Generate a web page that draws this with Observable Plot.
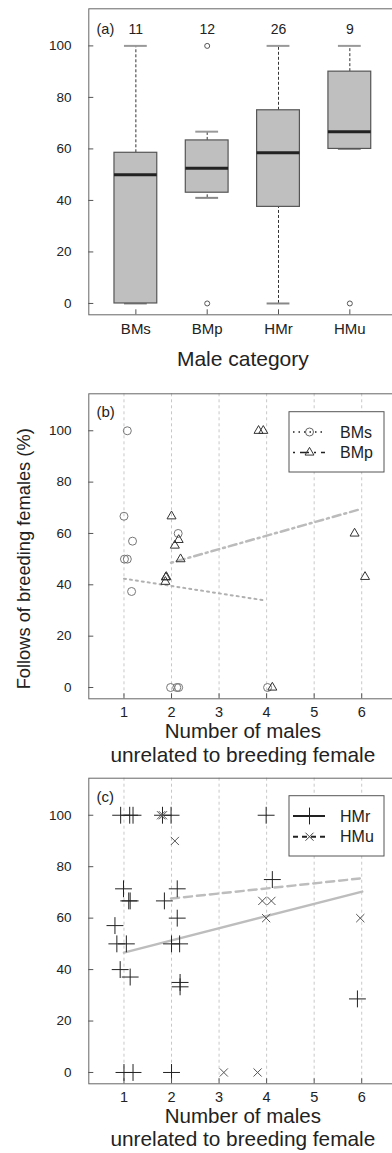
<!DOCTYPE html>
<html><head><meta charset="utf-8">
<script src="https://cdn.jsdelivr.net/npm/d3@7"></script>
<script src="https://cdn.jsdelivr.net/npm/@observablehq/plot@0.6"></script>
<style>
html,body{margin:0;padding:0;background:#fff;overflow:hidden;width:392px;height:1153px}
#chart svg{display:block;overflow:hidden}
</style></head><body><div id="chart"></div>
<script>
const FONT = "'Liberation Sans', Arial, Helvetica, sans-serif";

// ---------- Panel (a): box plots ----------
const categories = ["BMs", "BMp", "HMr", "HMu"];
const counts = [11, 12, 26, 9];
const q1 = [0, 43, 37.5, 60];
const medians = [50, 52.5, 58.5, 66.7];
const q3 = [58.5, 63.3, 75, 90];
const whiskerLow = [0, 41, 0, 60];
const whiskerHigh = [100, 66.7, 100, 100];
const outlierCat = ["BMp", "BMp", "HMu"];
const outlierVal = [100, 0, 0];
const yTicks = [0, 20, 40, 60, 80, 100];

// ---------- Panel (b) ----------
const bmsX = [1.07, 1.00, 1.18, 1.01, 1.07, 1.16, 2.14, 1.98, 2.11, 2.15, 4.02];
const bmsY = [100, 66.7, 57, 50, 50, 37.4, 60, 0, 0, 0, 0];
const bmpX = [3.83, 3.93, 2.00, 2.15, 2.07, 2.19, 1.87, 1.88, 1.89, 5.85, 6.07, 4.12];
const bmpY = [100, 100, 66.7, 57.5, 55.3, 50, 41.2, 42.9, 43.1, 60, 43.1, 0];
const bmsFitX = [1.0, 3.97];
const bmsFitY = [42.4, 33.9];
const bmpFitX = [1.99, 5.94];
const bmpFitY = [48.6, 69.3];

// ---------- Panel (c) ----------
const hmrX = [0.93, 1.12, 1.19, 1.81, 1.99, 3.99, 4.12, 0.99, 2.12, 1.10, 1.13, 1.85, 2.12, 0.81, 0.85, 1.05, 2.00, 2.17, 0.92, 1.13, 2.18, 2.18, 5.91, 1.00, 1.19, 2.00];
const hmrY = [100, 100, 100, 100, 100, 100, 75, 71.4, 71.4, 66.7, 66.7, 66.7, 60, 57.1, 50, 50, 50, 50, 40, 37.1, 35, 33.3, 28.6, 0, 0, 0];
const hmuX = [1.78, 1.82, 2.07, 3.91, 4.10, 3.99, 5.97, 3.10, 3.81];
const hmuY = [100, 100, 90, 66.7, 66.7, 60, 60, 0, 0];
const hmrFitX = [1.0, 6.01];
const hmrFitY = [46.6, 70.3];
const hmuFitX = [1.99, 5.96];
const hmuFitY = [67.6, 75.4];
const xTicks = [1, 2, 3, 4, 5, 6];

// ---------- helpers ----------
const pts = (xs, ys) => xs.map((x, i) => ({x, y: ys[i]}));
const style = {fontFamily: FONT, fontSize: "13.5px", color: "#222", background: "white"};
const Y_DOMAIN = [-4.4, 114.4];
const X_DOMAIN = [0.26, 6.74];
const TICK = 5;
const chart = document.getElementById("chart");

// inward ticks + separate labels
function axesMarks(xTickValues, xFormat, xFont, xPad) {
  return [
    Plot.axisY({ticks: yTicks, tickSize: TICK, dx: TICK, tickFormat: () => "", label: null, stroke: "#555"}),
    Plot.axisY({ticks: yTicks, tickSize: 0, tickPadding: 17.3, label: null, fontSize: 13.5}),
    Plot.axisX({ticks: xTickValues, tickSize: TICK, dy: -TICK, tickFormat: () => "", label: null, stroke: "#555"}),
    Plot.axisX({ticks: xTickValues, tickSize: 0, tickPadding: xPad, tickFormat: xFormat, label: null, fontSize: xFont})
  ];
}

// ---------- Panel (a) ----------
const boxes = categories.map((c, i) => ({
  pos: i + 1, cat: c, count: counts[i], q1: q1[i], med: medians[i], q3: q3[i],
  lo: whiskerLow[i], hi: whiskerHigh[i]
}));
const outliers = outlierCat.map((c, i) => ({pos: categories.indexOf(c) + 1, v: outlierVal[i]}));
const BW = 0.3, CW = 0.16;

const plotA = Plot.plot({
  width: 392, height: 375,
  marginLeft: 88.3, marginRight: -4.4, marginTop: 8.3, marginBottom: 60.7,
  style,
  x: {domain: [0.34, 4.66]},
  y: {domain: Y_DOMAIN},
  marks: [
    Plot.ruleX(boxes, {x: "pos", y1: "q3", y2: "hi", stroke: "#333", strokeDasharray: "3,2"}),
    Plot.ruleX(boxes, {x: "pos", y1: "lo", y2: "q1", stroke: "#333", strokeDasharray: "3,2"}),
    Plot.ruleY(boxes, {y: "hi", x1: d => d.pos - CW, x2: d => d.pos + CW, stroke: "#999", strokeWidth: 2}),
    Plot.ruleY(boxes, {y: "lo", x1: d => d.pos - CW, x2: d => d.pos + CW, stroke: "#888", strokeWidth: 2}),
    Plot.rect(boxes, {x1: d => d.pos - BW, x2: d => d.pos + BW, y1: "q1", y2: "q3", fill: "#bfbfbf", stroke: "#555", strokeWidth: 1.2}),
    Plot.ruleY(boxes, {y: "med", x1: d => d.pos - BW, x2: d => d.pos + BW, stroke: "#222", strokeWidth: 3}),
    Plot.dot(outliers, {x: "pos", y: "v", r: 2.5, stroke: "#555", strokeWidth: 1}),
    Plot.text(boxes, {x: "pos", text: d => String(d.count), frameAnchor: "top", lineAnchor: "bottom", dy: 25, fontSize: 14}),
    Plot.text(["(a)"], {text: d => d, frameAnchor: "top-left", textAnchor: "start", lineAnchor: "bottom", dx: 7.7, dy: 25, fontSize: 14.5}),
    Plot.frame({stroke: "#666"}),
    ...axesMarks([1, 2, 3, 4], i => categories[i - 1], 15, 8.4),
    Plot.text(["Male category"], {text: d => d, frameAnchor: "bottom", lineAnchor: "bottom", dy: 50.7, fontSize: 21})
  ]
});
chart.appendChild(plotA);

// ---------- Panel (b) ----------
const plotB = Plot.plot({
  width: 392, height: 390,
  marginLeft: 88.3, marginRight: -4.4, marginTop: 18.3, marginBottom: 66.7,
  style,
  x: {domain: X_DOMAIN},
  y: {domain: Y_DOMAIN},
  marks: [
    Plot.ruleX(xTicks, {stroke: "#c8c8c8", strokeDasharray: "3,3"}),
    Plot.line(pts(bmsFitX, bmsFitY), {x: "x", y: "y", stroke: "#b0b0b0", strokeWidth: 2, strokeDasharray: "2,4"}),
    Plot.line(pts(bmpFitX, bmpFitY), {x: "x", y: "y", stroke: "#bbbbbb", strokeWidth: 2.5, strokeDasharray: "2,4,8,4"}),
    Plot.dot(pts(bmsX, bmsY), {x: "x", y: "y", r: 4, stroke: "#777", strokeWidth: 1}),
    Plot.dot(pts(bmpX, bmpY), {x: "x", y: "y", r: 4.3, symbol: "triangle2", stroke: "#333", strokeWidth: 1}),
    Plot.text(["(b)"], {text: d => d, frameAnchor: "top-left", textAnchor: "start", lineAnchor: "bottom", dx: 7.7, dy: 23, fontSize: 15}),
    Plot.frame({stroke: "#666"}),
    ...axesMarks(xTicks, d => String(d), 14.5, 8.4),
    Plot.text(["Number of males"], {text: d => d, frameAnchor: "bottom", lineAnchor: "bottom", dy: 39.4, fontSize: 20.5}),
    Plot.text(["unrelated to breeding female"], {text: d => d, frameAnchor: "bottom", lineAnchor: "bottom", dy: 62.7, fontSize: 20.8}),
    Plot.text(["Follows of breeding females (%)"], {text: d => d, frameAnchor: "left", textAnchor: "middle", rotate: -90, dx: -64.8, dy: 12.5, fontSize: 18.3})
  ]
});
chart.appendChild(plotB);

// ---------- Panel (c) ----------
const plotC = Plot.plot({
  width: 392, height: 388,
  marginLeft: 88.3, marginRight: -4.4, marginTop: 12.7, marginBottom: 69.7,
  style,
  x: {domain: X_DOMAIN},
  y: {domain: Y_DOMAIN},
  marks: [
    Plot.ruleX(xTicks, {stroke: "#c8c8c8", strokeDasharray: "3,3"}),
    Plot.line(pts(hmrFitX, hmrFitY), {x: "x", y: "y", stroke: "#bdbdbd", strokeWidth: 2.5}),
    Plot.line(pts(hmuFitX, hmuFitY), {x: "x", y: "y", stroke: "#bdbdbd", strokeWidth: 2.5, strokeDasharray: "8,5"}),
    Plot.dot(pts(hmrX, hmrY), {x: "x", y: "y", r: 5.5, symbol: "plus", stroke: "#222", strokeWidth: 1}),
    Plot.dot(pts(hmuX, hmuY), {x: "x", y: "y", r: 3.8, symbol: "times", stroke: "#555", strokeWidth: 1}),
    Plot.text(["(c)"], {text: d => d, frameAnchor: "top-left", textAnchor: "start", lineAnchor: "bottom", dx: 7.7, dy: 24, fontSize: 15}),
    Plot.frame({stroke: "#666"}),
    ...axesMarks(xTicks, d => String(d), 14.5, 8),
    Plot.text(["Number of males"], {text: d => d, frameAnchor: "bottom", lineAnchor: "bottom", dy: 39.4, fontSize: 20.5}),
    Plot.text(["unrelated to breeding female"], {text: d => d, frameAnchor: "bottom", lineAnchor: "bottom", dy: 62.5, fontSize: 20.8})
  ]
});
chart.appendChild(plotC);

// ---------- Legends ----------
function drawLegend(svg, box, rows) {
  const g = d3.select(svg).append("g").attr("font-family", FONT).attr("text-anchor", "start");
  g.append("rect").attr("x", box.x).attr("y", box.y).attr("width", box.w).attr("height", box.h)
    .attr("fill", "white").attr("stroke", "#555");
  rows.forEach(r => {
    g.append("line").attr("x1", box.x + 4).attr("x2", box.x + 36).attr("y1", r.y).attr("y2", r.y)
      .attr("stroke", "#222").attr("stroke-width", r.lw).attr("stroke-dasharray", r.dash);
    g.append("path").attr("d", d3.symbol(r.symbol, r.size)())
      .attr("transform", `translate(${box.x + 20.5},${r.y})`)
      .attr("fill", "none").attr("stroke", r.symStroke);
    g.append("text").attr("x", box.x + 51).attr("y", r.y).attr("dy", "0.35em")
      .attr("text-anchor", "start").attr("font-size", 16).attr("fill", "#222").text(r.label);
  });
}
drawLegend(plotB, {x: 289, y: 36.7, w: 95, h: 60.3}, [
  {y: 57, label: categories[0], symbol: d3.symbolCircle, size: Math.PI * 16, lw: 1.5, dash: "1.5,4", symStroke: "#666"},
  {y: 77.5, label: categories[1], symbol: d3.symbolTriangle2, size: Math.PI * 18, lw: 1.5, dash: "2,5,9,5", symStroke: "#333"}
]);
drawLegend(plotC, {x: 289, y: 30.7, w: 95, h: 60.3}, [
  {y: 51, label: categories[2], symbol: d3.symbolPlus, size: Math.PI * 30, lw: 2, dash: null, symStroke: "#222"},
  {y: 71.7, label: categories[3], symbol: d3.symbolTimes, size: Math.PI * 14, lw: 2, dash: "5,4", symStroke: "#444"}
]);
</script></body></html>
